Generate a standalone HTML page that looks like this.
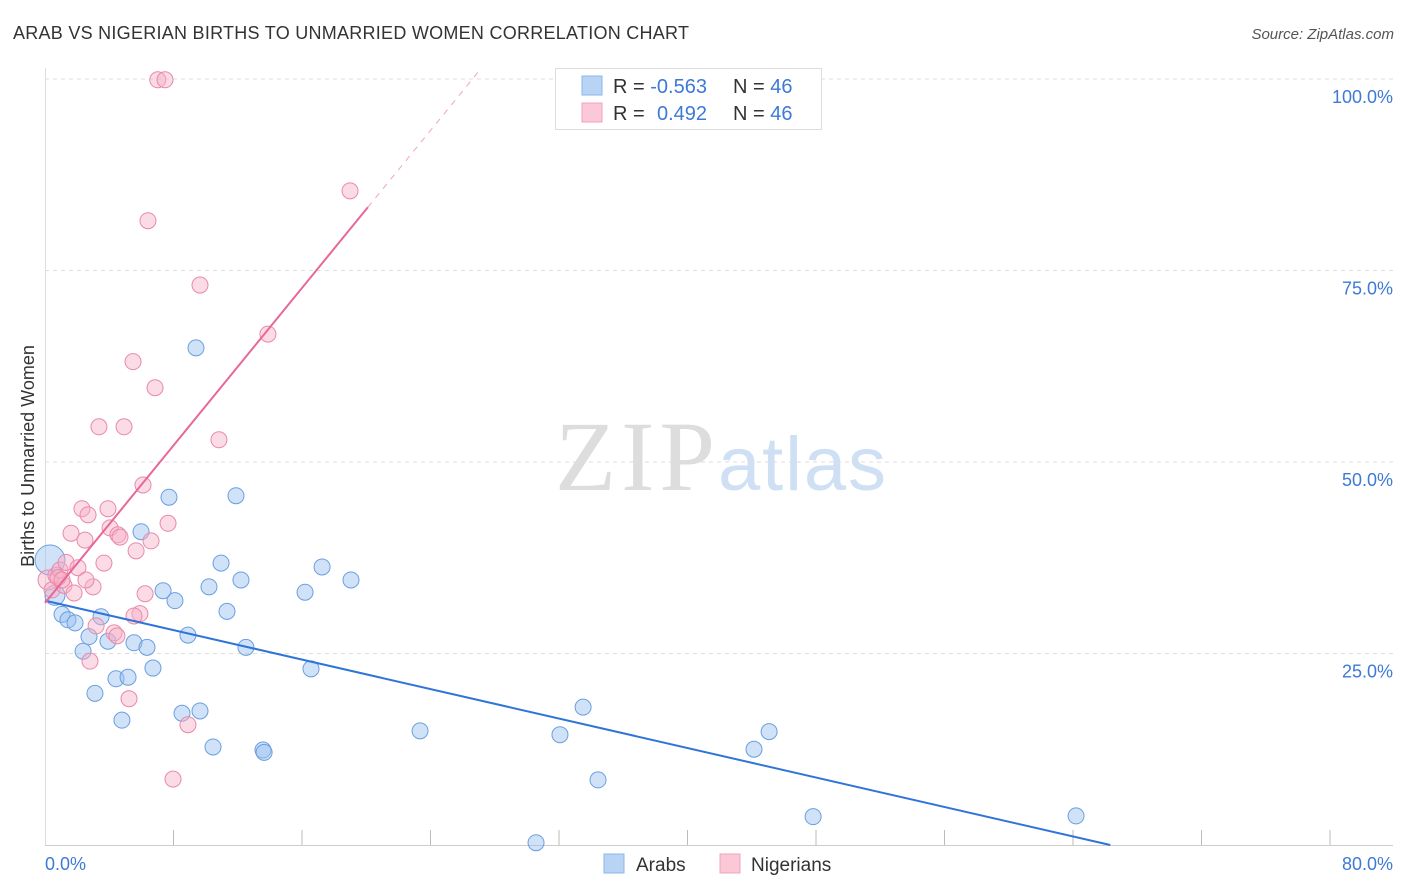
<!DOCTYPE html>
<html><head><meta charset="utf-8"><style>
body{margin:0;background:#fff;width:1406px;height:892px;overflow:hidden;font-family:"Liberation Sans",sans-serif}
svg{position:absolute;left:0;top:0}
</style></head><body>
<svg id="chart" width="1406" height="892">
<text x="13" y="39" font-size="18" fill="#333" textLength="676">ARAB VS NIGERIAN BIRTHS TO UNMARRIED WOMEN CORRELATION CHART</text>
<text x="1394" y="39" font-size="15" font-style="italic" fill="#555" text-anchor="end">Source: ZipAtlas.com</text>
<text x="555" y="490" font-size="100" font-family="Liberation Serif,serif" fill="#ddd" textLength="160">ZIP</text>
<text x="718" y="490" font-size="76" fill="#cfe0f4" textLength="168">atlas</text>
<g id="grid"></g>
<g id="pts"></g>
<g id="lines"></g>
<text transform="translate(34,456) rotate(-90)" font-size="18" fill="#333" text-anchor="middle">Births to Unmarried Women</text>
<text x="45" y="870" font-size="18" fill="#3d7ad6">0.0%</text>
<text x="1393" y="870" font-size="18" fill="#3d7ad6" text-anchor="end">80.0%</text>
<g>
<rect x="555.5" y="68.5" width="266" height="61" fill="#fff" stroke="#ddd"/>
<rect x="582" y="76" width="20" height="19" fill="#b9d3f5" stroke="#8db5ea"/>
<rect x="582" y="103" width="20" height="19" fill="#fbc8d8" stroke="#f0a3bd"/>
<text x="613" y="93" font-size="20" fill="#333">R = <tspan fill="#3d7ad6">-0.563</tspan><tspan x="733">N = </tspan><tspan fill="#3d7ad6">46</tspan></text>
<text x="613" y="120" font-size="20" fill="#333">R = <tspan fill="#3d7ad6" x="657">0.492</tspan><tspan x="733">N = </tspan><tspan fill="#3d7ad6">46</tspan></text>
</g>
<g>
<rect x="604" y="854" width="20" height="19" fill="#b9d3f5" stroke="#8db5ea"/>
<text x="636" y="871" font-size="19" fill="#333">Arabs</text>
<rect x="720" y="854" width="20" height="19" fill="#fbc8d8" stroke="#f0a3bd"/>
<text x="751" y="871" font-size="19" fill="#333">Nigerians</text>
</g>
</svg>
<script>
const yTicks=[25,50,75,100];
const yTickLabels=["25.0%","50.0%","75.0%","100.0%"];
const arabX=[0.31,1.06,1.43,1.87,2.37,2.74,3.11,3.49,3.92,4.42,4.79,5.17,5.54,5.98,6.35,6.72,7.35,7.72,8.09,8.53,8.90,9.40,9.65,10.21,10.46,10.96,11.33,11.89,12.20,12.51,13.57,13.64,16.19,16.56,17.25,19.05,23.35,30.57,32.06,33.50,34.43,44.14,45.08,47.82,64.19,0.62];
const arabY=[37.2,30.1,29.4,29.0,25.3,27.2,19.8,29.8,26.6,21.7,16.3,21.9,26.4,40.9,25.8,23.1,33.2,45.4,31.9,17.2,27.4,64.9,17.5,33.7,12.8,36.8,30.5,45.6,34.6,25.8,12.4,12.1,33.0,23.0,36.3,34.6,14.9,0.3,14.4,18.0,8.5,12.5,14.8,3.7,3.8,32.6];
const nigX=[0.19,0.44,0.68,0.93,1.18,1.31,1.62,1.81,2.05,2.30,2.49,2.68,2.80,2.99,3.18,3.36,3.67,3.92,4.05,4.30,4.54,4.92,5.23,5.48,5.67,5.91,6.10,6.23,6.41,6.60,6.85,7.02,7.47,7.66,7.97,8.90,9.65,10.83,13.88,18.99,4.48,4.67,0.81,1.06,2.55,5.54];
const nigY=[34.6,33.3,35.2,35.9,33.9,36.9,40.7,32.9,36.2,43.9,39.8,43.1,24.0,33.7,28.6,54.6,36.8,43.9,41.4,27.7,40.5,54.6,19.1,63.1,38.4,30.2,47.0,32.8,81.5,39.7,59.7,99.9,99.9,42.0,8.6,15.7,73.1,52.9,66.7,85.4,27.3,40.2,34.9,34.6,34.6,29.9];
const arabTrend=[31.9,-0.481];
const nigTrend=[31.6,2.57];
const X=v=>45+v/80*1285, Y=v=>845-v/100*766;
const NS="http://www.w3.org/2000/svg";
function mk(t,a,p){const e=document.createElementNS(NS,t);for(const k in a)e.setAttribute(k,a[k]);p.appendChild(e);return e;}
const g=document.getElementById('grid');
yTicks.forEach((t,i)=>{
 const l=mk('line',{x1:45,x2:1393,y1:Y(t),y2:Y(t),stroke:'#ddd','stroke-dasharray':'4,4'},g);
 
 
 const tx=mk('text',{x:1393,y:Y(t)+24,'font-size':18,fill:'#3d7ad6','text-anchor':'end'},g);
 tx.textContent=yTickLabels[i];
 
 
});
const ax=mk('line',{x1:45,x2:1393,y1:845.5,y2:845.5,stroke:'#ccc'},g);


const ay=mk('line',{x1:45.5,x2:45.5,y1:68,y2:845,stroke:'#ddd'},g);


for(let i=1;i<=10;i++){const t=mk('line',{x1:X(i*8),x2:X(i*8),y1:830,y2:845,stroke:'#bbb'},g);
 
 }
const p=document.getElementById('pts');
arabX.forEach((x,i)=>{const c=mk('circle',{cx:X(x),cy:Y(arabY[i]),r:i==0?15:(i==45?10:8),fill:'rgba(150,190,240,0.45)',stroke:'#6a9fe0','stroke-width':1},p);
 
 });
nigX.forEach((x,i)=>{const c=mk('circle',{cx:X(x),cy:Y(nigY[i]),r:i==0?10:8,fill:'rgba(246,175,200,0.45)',stroke:'#e98aa8','stroke-width':1},p);
 
 });
const L=document.getElementById('lines');
const bl=mk('line',{x1:X(0),y1:Y(arabTrend[0]),x2:X(-arabTrend[0]/arabTrend[1]),y2:Y(0),stroke:'#2f74d8','stroke-width':2},L);


const pl=mk('line',{x1:X(0),y1:Y(nigTrend[0]),x2:X(20.1),y2:Y(nigTrend[0]+nigTrend[1]*20.1),stroke:'#e8679a','stroke-width':2},L);


const xe=(101-nigTrend[0])/nigTrend[1];
const pd=mk('line',{x1:X(20.1),y1:Y(nigTrend[0]+nigTrend[1]*20.1),x2:X(xe),y2:Y(101),stroke:'#f0a3bd','stroke-width':1,'stroke-dasharray':'6,6'},L);


</script>
</body></html>
